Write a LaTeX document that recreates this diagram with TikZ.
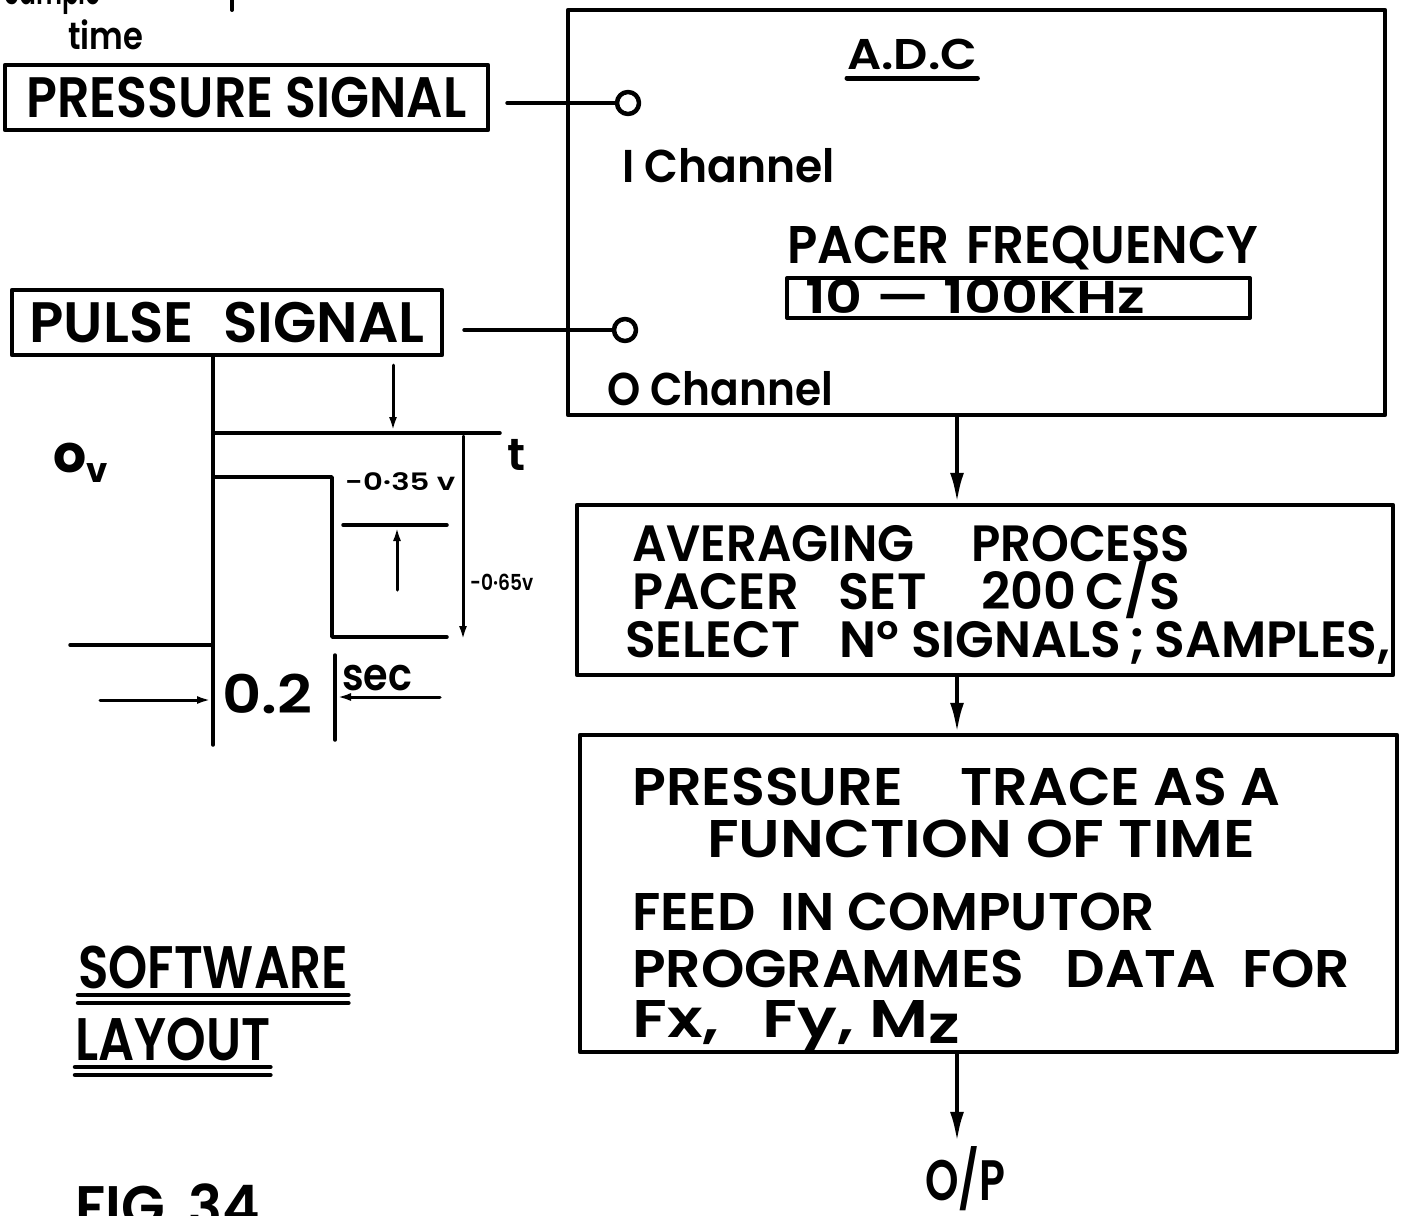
\documentclass[tikz,border=0pt]{standalone}
\usepackage{fontspec}
\setmainfont{Poppins}[UprightFont=* SemiBold, BoldFont=* Bold]
\usepackage{graphicx}
\usetikzlibrary{arrows.meta}
\newcommand\fw[3]{\resizebox{#1pt}{\height}{\fontsize{#2pt}{#2pt}\selectfont #3}}
\begin{document}
\begin{tikzpicture}[x=1pt,y=-1pt, line cap=round, line join=round,
  box/.style={draw, line width=4.5pt, inner sep=0pt},
  txt/.style={inner sep=0pt, anchor=base west},
  wave/.style={line width=3.5pt},
  big/.style={line width=4pt, -{Latex[length=30pt,width=14pt]}},
  small/.style={line width=3pt, -{Latex[length=14pt,width=8pt]}},
  port/.style={circle, draw, line width=4.5pt, minimum size=22pt, inner sep=0pt}]
\useasboundingbox (0,0) rectangle (1415,1215);

% top-left labels
\node[txt] (sample) at (4,5) {\fw{97}{38}{Sample}};
\draw[line width=4pt] (232,-6) -- (232,10);
\node[txt] (time) at (68,50) {\fw{75}{38}{time}};

% signal boxes
\node[box, minimum width=483pt, minimum height=65pt] (ps) at (246.5,97.5) {\fw{440}{57}{PRESSURE SIGNAL}};
\node[box, minimum width=430pt, minimum height=65pt] (pu) at (227,322.5) {\fw{395}{57}{PULSE\hspace{30pt}SIGNAL}};

% ADC
\node[box, minimum width=817pt, minimum height=405pt] (adc) at (976.5,212.5) {};
\node[txt] (adct) at (847,70) {\fw{130}{43}{A.D.C}};
\draw[line width=5pt] ([yshift=-8pt]adct.base west) -- ([yshift=-8pt]adct.base east);
\node[port] (c1) at (628,103) {};
\node[port] (c2) at (625,330) {};
\draw[line width=4pt, shorten <=17pt] (ps.east |- c1) -- (c1.west);
\draw[line width=4pt, shorten <=20pt] (pu.east |- c2) -- (c2.west);
\node[txt] (ch1) at (622,182) {\fw{213}{46}{I Channel}};
\node[txt] (pf) at (787,263) {\fw{471}{53}{PACER\hspace{18pt}FREQUENCY}};
\node[box, line width=4pt, minimum width=463pt, minimum height=40pt] (pfb) at (1018.5,298) {};
\node[txt] (pfv) at (805,313) {\fw{340}{46}{10 — 100KHz}};
\node[txt] (ch0) at (607,405) {\fw{226}{46}{O Channel}};

% processing boxes
\coordinate (ax) at (957,0);
\node[box, minimum width=816pt, minimum height=170pt] (avg) at (985,590) {};
\node[txt] (a1) at (632,561) {\fw{558}{51}{AVERAGING\hspace{60pt}PROCESS}};
\node[txt] (a2) at (632,609) {\fw{548}{51}{PACER\hspace{40pt}SET\hspace{55pt}200\,C/S}};
\node[txt] (a3) at (625,657) {\fw{765}{51}{SELECT\hspace{40pt}Nº SIGNALS\,;\,SAMPLES,}};

\node[box, minimum width=817pt, minimum height=317pt] (trc) at (988.5,893.5) {};
\node[txt] (t1) at (632,805) {\fw{648}{53}{PRESSURE\hspace{55pt}TRACE AS A}};
\node[txt] (t2) at (707,857) {\fw{548}{53}{FUNCTION OF TIME}};
\node[txt] (t3) at (632,930) {\fw{523}{53}{FEED\hspace{25pt}IN COMPUTOR}};
\node[txt] (t4) at (632,987) {\fw{718}{53}{PROGRAMMES\hspace{40pt}DATA\hspace{25pt}FOR}};
\node[txt] (t5) at (632,1037) {\fw{328}{53}{Fx,\hspace{35pt}Fy, M\raisebox{-6pt}{z}}};

\node[txt, anchor=base] (op) at (965,1200) {\fw{80}{57}{O/P}};

\draw[big] (adc.south -| ax) -- (avg.north -| ax);
\draw[big] (avg.south -| ax) -- (trc.north -| ax);
\draw[big] (trc.south -| ax) -- ([yshift=4pt]op.north -| ax);

% titles
\node[txt] (sw) at (78,988) {\fw{270}{60}{SOFTWARE}};
\draw[line width=4.5pt] ([yshift=-7pt]sw.base west) -- ([yshift=-7pt]sw.base east);
\draw[line width=4.5pt] ([yshift=-15pt]sw.base west) -- ([yshift=-15pt]sw.base east);
\node[txt] (ly) at (75,1060) {\fw{195}{60}{LAYOUT}};
\draw[line width=4.5pt] ([yshift=-7pt]ly.base west) -- ([yshift=-7pt]ly.base east);
\draw[line width=4.5pt] ([yshift=-15pt]ly.base west) -- ([yshift=-15pt]ly.base east);
\node[txt] (fig) at (75,1228) {\fw{185}{60}{FIG\hspace{25pt}34}};

% pulse waveform
\draw[wave] (pu.south -| 213,0) -- (213,745);
\draw[wave] (213,433) -- (500,433);
\draw[small] (393,365) -- (393,431);
\draw[wave] (213,477) -- (332,477) -- (332,637) -- (447,637);
\draw[wave] (70,645) -- (213,645);
\draw[small] (463,436) -- (463,640);
\draw[wave] (343,525) -- (447,525);
\draw[small] (397,590) -- (397,527);
\draw[small] (100,700) -- (211,700);
\draw[wave] (335,655) -- (335,740);
\draw[small] (440,697) -- (337,697);

\node[txt] (tl) at (507,470) {\fw{18}{45}{t}};
\node[txt] (v35) at (345,490) {\fw{110}{24}{-0·35 v}};
\node[txt] (v65) at (470,590) {\fw{63}{22}{-0·65v}};
\node[txt] (d02) at (222,713) {\fw{90}{53}{0.2}};
\node[txt] (sec) at (342,690) {\fw{70}{45}{sec}};
\node[txt] (ov) at (53,472) {\fontsize{52pt}{52pt}\selectfont\bfseries o\raisebox{-10pt}{\fontsize{34pt}{34pt}\selectfont v}};
\end{tikzpicture}
\end{document}
